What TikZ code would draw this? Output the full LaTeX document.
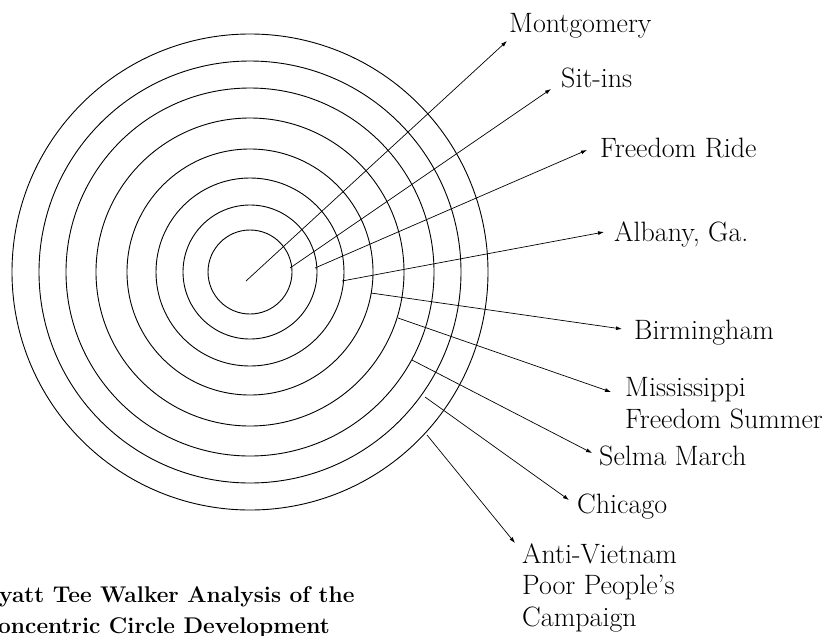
\documentclass[tikz,border=0pt]{standalone}
\usetikzlibrary{arrows.meta}
\begin{document}
\begin{tikzpicture}[x=1pt,y=-1pt,
  ring/.style={line width=0.9pt},
  arr/.style={line width=0.7pt,-{Latex[length=6pt,width=4pt]}},
  lab/.style={anchor=base west,inner sep=0pt,font=\fontsize{28}{31.5}\selectfont,align=left},
  capt/.style={anchor=base west,inner sep=0pt,font=\fontsize{22.7}{31}\selectfont\bfseries}]
\useasboundingbox (0,0) rectangle (829,635);
\coordinate (c) at (250,272);
\foreach \r in {42,67,94,123,154,184,211,238} \draw[ring] (c) circle[radius=\r];
% labels (multi-line nodes: base = last line)
\node[lab] (mont) at (509,32) {Montgomery};
\node[lab] (sit) at (561,87) {Sit-ins};
\node[lab] (ride) at (600,157) {Freedom Ride};
\node[lab] (alb) at (614,241) {Albany, Ga.};
\node[lab] (birm) at (634,339) {Birmingham};
\node[lab] (miss) at (625,428) {Mississippi\\Freedom Summer};
\node[lab] (selma) at (599,465) {Selma March};
\node[lab] (chic) at (577,513) {Chicago};
\node[lab] (anti) at (522,626) {Anti-Vietnam\\Poor People's\\Campaign};
\node[capt] (cap1) at (-1,602) {yatt Tee Walker Analysis of the};
\node[capt] (cap2) at (-2,633) {oncentric Circle Development};
% connector ends
\coordinate (s1) at (246,281); \coordinate (e1) at (507,41);
\coordinate (s2) at (290,268); \coordinate (e2) at (551,89);
\coordinate (s3) at (315,268); \coordinate (e3) at (587,150);
\coordinate (s4) at (342,281); \coordinate (e4) at (604,232);
\coordinate (s5) at (371,293); \coordinate (e5) at (622,329);
\coordinate (s6) at (398,318); \coordinate (e6) at (611,392);
\coordinate (s7) at (412,360); \coordinate (e7) at (592,453);
\coordinate (s8) at (425,397); \coordinate (e8) at (569,500);
\coordinate (s9) at (427,435); \coordinate (e9) at (515,543);
\foreach \i in {1,...,9} \draw[arr] (s\i) -- (e\i);
\end{tikzpicture}
\end{document}
